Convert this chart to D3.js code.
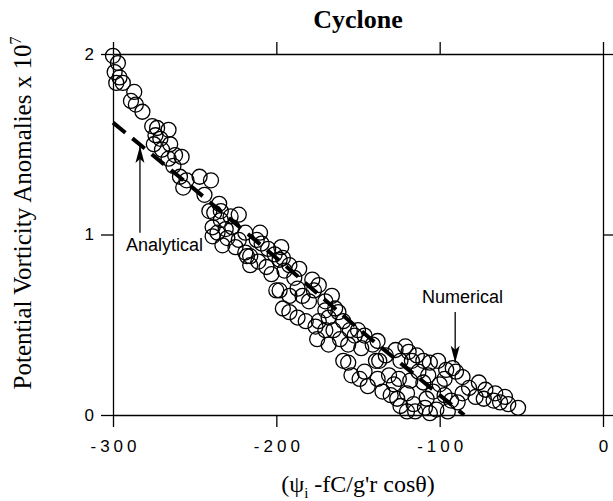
<!DOCTYPE html>
<html lang="en">
<head>
    <meta charset="UTF-8">
    <title>Cyclone</title>
    <style>
        body { margin: 0; background: #fff; }
    </style>
</head>
<body>
    <div id="chart"></div>

    <script src="https://d3js.org/d3.v7.min.js"></script>
    <script>
        // numerical model points (x = psi_i - fC/g'r cos theta, y = PV anomaly x 1e7)
        var numX = [
            -300, -297, -299, -296, -294, -298, -287, -289, -286, -282,
            -276, -273, -266, -274, -271, -275, -265, -270, -262, -266,
            -263, -258, -259, -255, -257, -247, -240, -244, -235, -223,
            -241, -238, -234, -234, -228, -239, -239, -236, -231, -230,
            -227, -223, -219, -233, -225, -219, -216, -210, -218, -216,
            -212, -209, -205, -201, -197, -211, -206, -203, -198, -195,
            -192, -186, -178, -189, -200, -196,
            -198, -192, -187, -184, -180, -177, -174, -170, -166, -164,
            -196, -192, -187, -182, -176, -174, -168, -162, -159, -155,
            -165, -170, -170, -161, -168, -175, -156, -152, -150, -146,
            -141, -148, -138, -133, -139, -159, -156, -154, -149, -146,
            -144, -138, -137, -131, -128, -125, -124, -135, -130, -126,
            -120, -119, -121, -127, -117, -114, -110, -113, -110, -107,
            -118, -116, -115, -109, -102, -95, -89, -124, -108, -104,
            -100, -97, -96, -106, -101, -92, -90, -86, -76, -86,
            -78, -73, -67, -63, -58, -52, -82, -97, -93, -72,
            -66, -60, -120, -106
        ];
        var numY = [
            1.99, 1.95, 1.90, 1.87, 1.84, 1.84, 1.79, 1.74, 1.72, 1.68,
            1.60, 1.59, 1.58, 1.55, 1.53, 1.50, 1.50, 1.47, 1.44, 1.42,
            1.38, 1.43, 1.32, 1.30, 1.26, 1.32, 1.30, 1.22, 1.17, 1.11,
            1.13, 1.12, 1.13, 1.08, 1.10, 1.04, 0.99, 1.01, 1.03, 0.98,
            1.04, 0.97, 1.01, 0.94, 0.93, 0.90, 0.88, 1.01, 0.88, 0.83,
            0.97, 0.95, 0.92, 0.89, 0.93, 0.85, 0.82, 0.78, 0.86, 0.80,
            0.83, 0.81, 0.75, 0.76, 0.69, 0.87,
            0.69, 0.66, 0.70, 0.66, 0.63, 0.69, 0.72, 0.63, 0.66, 0.59,
            0.59, 0.57, 0.54, 0.52, 0.49, 0.52, 0.54, 0.57, 0.52, 0.47,
            0.47, 0.58, 0.47, 0.42, 0.39, 0.42, 0.39, 0.44, 0.47, 0.44,
            0.39, 0.37, 0.41, 0.33, 0.30, 0.30, 0.29, 0.22, 0.20, 0.24,
            0.16, 0.20, 0.30, 0.22, 0.17, 0.20, 0.30, 0.13, 0.11, 0.09,
            0.12, 0.35, 0.38, 0.36, 0.30, 0.33, 0.30, 0.24, 0.18, 0.22,
            0.19, 0.06, 0.02, 0.04, 0.03, 0.02, 0.07, 0.05, 0.09, 0.13,
            0.17, 0.20, 0.25, 0.29, 0.30, 0.26, 0.24, 0.21, 0.18, 0.12,
            0.10, 0.09, 0.08, 0.07, 0.06, 0.04, 0.15, 0.11, 0.08, 0.14,
            0.12, 0.10, 0.02, 0.01
        ];

        // analytical solution (dashed)
        var anaX = [-300, -250, -200, -150, -100, -85];
        var anaY = [1.62, 1.25, 0.87, 0.48, 0.11, 0];

        var xTicks = [-300, -200, -100, 0];
        var yTicks = [0, 1, 2];

        var width = 613, height = 501;
        var margin = {top: 54, right: 10, bottom: 86, left: 113};
        var plotW = width - margin.left - margin.right;
        var plotH = height - margin.top - margin.bottom;

        var svg = d3.select("#chart")
            .append("svg")
                .attr("width", width)
                .attr("height", height);

        var x = d3.scaleLinear().domain([-300, 0]).range([margin.left, margin.left + plotW]);
        var y = d3.scaleLinear().domain([0, 2]).range([margin.top + plotH, margin.top]);

        function styleAxis(g) {
            g.selectAll("path").style("fill", "none").style("stroke", "#000").style("stroke-width", 1.3);
            g.selectAll("line").style("stroke", "#000").style("stroke-width", 1.3);
        }

        // bottom
        var axB = svg.append("g")
            .attr("transform", "translate(0," + (margin.top + plotH) + ")")
            .call(d3.axisBottom(x).tickValues(xTicks).tickSize(12).tickSizeOuter(0).tickPadding(13)
                .tickFormat(function(d){ return String(d); }));
        styleAxis(axB);
        axB.selectAll("text")
            .attr("dx", 2)
            .style("font-family", "'Liberation Sans', Arial, sans-serif")
            .style("font-size", "17px")
            .style("letter-spacing", "4px")
            .attr("fill", "#000");

        // top
        var axT = svg.append("g")
            .attr("transform", "translate(0," + margin.top + ")")
            .call(d3.axisTop(x).tickValues(xTicks).tickSize(12).tickSizeOuter(0).tickFormat(""));
        styleAxis(axT);

        // left
        var axL = svg.append("g")
            .attr("transform", "translate(" + margin.left + ",0)")
            .call(d3.axisLeft(y).tickValues(yTicks).tickSize(12).tickSizeOuter(0).tickPadding(7)
                .tickFormat(d3.format("d")));
        styleAxis(axL);
        axL.selectAll("text")
            .style("font-family", "'Liberation Sans', Arial, sans-serif")
            .style("font-size", "17px")
            .attr("fill", "#000");

        // right
        var axR = svg.append("g")
            .attr("transform", "translate(" + (margin.left + plotW) + ",0)")
            .call(d3.axisRight(y).tickValues(yTicks).tickSize(12).tickSizeOuter(0).tickFormat(""));
        styleAxis(axR);

        // analytical dashed line
        var anaLine = d3.line()
            .x(function(d, i){ return x(anaX[i]); })
            .y(function(d, i){ return y(anaY[i]); });
        svg.append("path")
            .datum(anaX)
            .attr("d", anaLine)
            .style("fill", "none")
            .style("stroke", "#000")
            .style("stroke-width", 4)
            .style("stroke-dasharray", "16,9");

        // numerical circles
        svg.append("g")
            .selectAll("circle")
            .data(numX)
            .enter()
            .append("circle")
                .attr("cx", function(d){ return x(d); })
                .attr("cy", function(d, i){ return y(numY[i]); })
                .attr("r", 7.5)
                .style("fill", "none")
                .style("stroke", "#000")
                .style("stroke-width", 1.3);

        // arrows + labels
        var notes = [
            {label: "Analytical", x0: -283.5, y0: 1.01, x1: -283.5, y1: 1.49, lx: -268.5, ly: 0.91},
            {label: "Numerical", x0: -90.5, y0: 0.57, x1: -90.5, y1: 0.29, lx: -86, ly: 0.62}
        ];

        notes.forEach(function(n){
            svg.append("line")
                .attr("x1", x(n.x0)).attr("y1", y(n.y0))
                .attr("x2", x(n.x1)).attr("y2", y(n.y1))
                .style("stroke", "#000")
                .style("stroke-width", 1.3);
            // arrow head at tip
            var tx = x(n.x1), ty = y(n.y1);
            var dir = n.y1 > n.y0 ? 1 : -1; // 1 = pointing up
            svg.append("path")
                .attr("d", "M" + tx + "," + ty +
                    " L" + (tx - 4.5) + "," + (ty + dir * 17) +
                    " L" + tx + "," + (ty + dir * 13) +
                    " L" + (tx + 4.5) + "," + (ty + dir * 17) + " Z")
                .attr("fill", "#000");
            svg.append("text")
                .attr("x", x(n.lx))
                .attr("y", y(n.ly))
                .attr("text-anchor", "middle")
                .style("font-family", "'Liberation Sans', Arial, sans-serif")
                .style("font-size", "18px")
                .text(n.label);
        });

        // title
        svg.append("text")
            .attr("x", margin.left + plotW / 2)
            .attr("y", 28)
            .attr("text-anchor", "middle")
            .style("font-family", "'Liberation Serif', 'Times New Roman', serif")
            .style("font-weight", "bold")
            .style("font-size", "26px")
            .text("Cyclone");

        // x axis title
        var xt = svg.append("text")
            .attr("x", margin.left + plotW / 2)
            .attr("y", 492)
            .attr("text-anchor", "middle")
            .style("font-family", "'Liberation Serif', 'Times New Roman', serif")
            .style("font-size", "24px");
        xt.append("tspan").text("(\u03C8");
        xt.append("tspan").attr("dy", 6).style("font-size", "15px").text("i");
        xt.append("tspan").attr("dy", -6).text(" -fC/g'r cos\u03B8)");

        // y axis title
        var yt = svg.append("text")
            .attr("transform", "translate(31," + 213 + ") rotate(-90)")
            .attr("text-anchor", "middle")
            .style("font-family", "'Liberation Serif', 'Times New Roman', serif")
            .style("font-size", "25px");
        yt.append("tspan").text("Potential Vorticity Anomalies x 10");
        yt.append("tspan").attr("dy", -10).style("font-size", "16px").text("7");
    </script>
</body>
</html>
